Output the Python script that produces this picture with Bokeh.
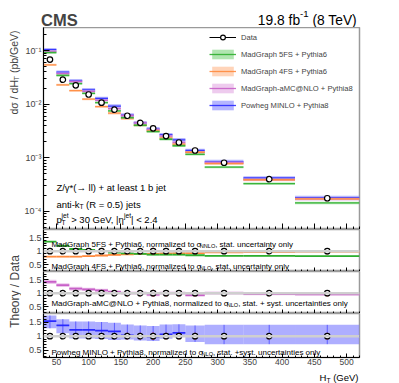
import math
from bokeh.plotting import figure
from bokeh.layouts import column, row
from bokeh.models import (Label, Legend, LegendItem, FixedTicker,
                          CustomJSTickFormatter, CustomLabelingPolicy, Range1d, Span)
from bokeh.embed import file_html
from bokeh.resources import INLINE

FONT = "Liberation Sans"

# ---------------------------------------------------------------- data
bin_lo = [30, 50, 70, 90, 110, 130, 150, 170, 190, 210, 230, 250, 280, 340, 420]
bin_hi = [50, 70, 90, 110, 130, 150, 170, 190, 210, 230, 250, 280, 340, 420, 520]
ht_center = [40, 60, 80, 100, 120, 140, 160, 180, 200, 220, 240, 265, 310, 380, 470]

data_xsec = [0.068, 0.0287, 0.0225, 0.0152, 0.0107, 0.0079, 0.0061, 0.0045,
             0.00355, 0.00255, 0.00193, 0.00137, 0.00081, 0.00040, 0.000176]
data_rel_err = [0.09, 0.08, 0.08, 0.08, 0.09, 0.10, 0.12, 0.12,
                0.13, 0.12, 0.12, 0.12, 0.11, 0.11, 0.12]
data_ratio = [1.0, 1.0, 1.0, 1.0, 1.0, 1.0, 1.0, 1.0,
              1.0, 1.0, 1.0, 1.0, 1.0, 1.0, 1.0]

# main-panel predictions (pb/GeV)
mg5fs_xsec = [0.0918, 0.0344, 0.0243, 0.0160, 0.0107, 0.0075, 0.0056, 0.00405,
              0.00309, 0.00222, 0.00168, 0.00116, 0.00067, 0.00033, 0.000144]
mg4fs_xsec = [0.0544, 0.0230, 0.0180, 0.0125, 0.0090, 0.0068, 0.0054, 0.00405,
              0.00320, 0.00235, 0.00179, 0.00127, 0.00078, 0.00039, 0.000172]
amc_xsec = [0.0966, 0.0373, 0.0263, 0.0173, 0.0118, 0.0083, 0.0061, 0.0045,
            0.00337, 0.00255, 0.00193, 0.00127, 0.00081, 0.00039, 0.000169]
powheg_xsec = [0.104, 0.0396, 0.0275, 0.0185, 0.0128, 0.0092, 0.0063, 0.0045,
               0.00348, 0.00270, 0.00216, 0.00137, 0.00085, 0.000420, 0.000181]

# relative widths of the prediction bands in the main panel
mg5fs_rel = [0.05] * 15
mg4fs_rel = [0.05] * 15
amc_rel = [0.06] * 15
powheg_rel = [0.08] * 15

# theory / data
ratio_mg5fs = [1.35, 1.20, 1.08, 1.05, 1.00, 0.95, 0.92, 0.90,
               0.87, 0.87, 0.87, 0.85, 0.83, 0.83, 0.82]
ratio_mg4fs = [0.80, 0.80, 0.80, 0.82, 0.84, 0.86, 0.88, 0.90,
               0.90, 0.92, 0.93, 0.93, 0.96, 0.97, 0.98]
ratio_amc = [1.42, 1.30, 1.17, 1.14, 1.10, 1.05, 1.00, 1.00,
             0.95, 1.00, 1.00, 0.93, 1.00, 0.97, 0.96]
ratio_powheg = [1.53, 1.38, 1.22, 1.22, 1.20, 1.17, 1.03, 1.00,
                0.98, 1.06, 1.12, 1.00, 1.00, 1.00, 1.00]
ratio_lo_unc = [0.025] * 15
ratio_amc_unc = [0.08, 0.07, 0.07, 0.06, 0.06, 0.06, 0.06, 0.06,
                 0.06, 0.06, 0.06, 0.06, 0.06, 0.05, 0.05]
ratio_powheg_up = [0.20, 0.22, 0.30, 0.30, 0.30, 0.30, 0.38, 0.38,
                   0.38, 0.35, 0.30, 0.38, 0.40, 0.40, 0.40]
ratio_powheg_dn = [0.25, 0.28, 0.30, 0.30, 0.30, 0.30, 0.15, 0.15,
                   0.15, 0.15, 0.15, 0.20, 0.28, 0.28, 0.28]

x_major_ticks = [50, 100, 150, 200, 250, 300, 350, 400, 450, 500]
x_minor_ticks = list(range(30, 521, 10))
y_major_ticks = [1e-4, 1e-3, 1e-2, 1e-1]
r_major_ticks = [0.5, 1.0, 1.5]
r_minor_ticks = [0.3, 0.4, 0.6, 0.7, 0.8, 0.9, 1.1, 1.2, 1.3, 1.4, 1.6, 1.7]

# colours
C_G_LINE, C_G_FILL = "#2fae2f", "#6fcf6f"
C_O_LINE, C_O_FILL = "#ff8a3d", "#ffb080"
C_P_LINE, C_P_FILL = "#c860c8", "#e0a0e0"
C_B_LINE, C_B_FILL = "#2a2aff", "#7878ff"
C_ERR = "#e8262a"

# ---------------------------------------------------------------- geometry (image px)
W = 399
FR_L, FR_R = 40, 359
X0, X1 = 30, 520
M_TOP, M_BOT = 27, 229
YMIN, YMAX = 4.6e-5, 0.27
R_TOP = [229, 271, 313]
R_BOT = [271, 313, 357]
R3_BORDER = 11
TOTAL_H = 383
RMIN, RMAX = 0.25, 1.8
TITLE_W = 21
COL_W = W - TITLE_W
B_LEFT = FR_L - TITLE_W
B_RIGHT = COL_W - B_LEFT - (FR_R - FR_L)
BOT_TOP = R_BOT[2] + R3_BORDER


def xd(px):
    return X0 + (px - FR_L) * (X1 - X0) / (FR_R - FR_L)


def ident(v):
    return v


def yd_main(py):
    lt, lb = math.log10(YMAX), math.log10(YMIN)
    return 10 ** (lt - (py - M_TOP) / (M_BOT - M_TOP) * (lt - lb))


def yd_ratio(k):
    def f(py):
        return RMAX - (py - R_TOP[k]) / (R_BOT[k] - R_TOP[k]) * (RMAX - RMIN)
    return f


HW = {' ': 278, '!': 278, '(': 333, ')': 333, '*': 389, '+': 584, ',': 278,
      '-': 333, '.': 278, '/': 278, ':': 278, '<': 584, '=': 584, '>': 584,
      '@': 1015, '|': 260, 'σ': 570, 'γ': 500, 'η': 556, '→': 1000}
for c in "0123456789":
    HW[c] = 556
HW.update(dict(zip("ABCDEFGHIJKLMNOPQRSTUVWXYZ",
                   [667, 667, 722, 722, 667, 611, 778, 722, 278, 500, 667, 556, 833,
                    722, 778, 667, 778, 722, 667, 611, 722, 667, 944, 667, 667, 611])))
HW.update(dict(zip("abcdefghijklmnopqrstuvwxyz",
                   [556, 556, 500, 556, 556, 278, 556, 556, 222, 222, 500, 222, 833,
                    556, 556, 556, 556, 333, 500, 278, 556, 500, 722, 500, 500, 500])))


def tw(s, size):
    return sum(HW.get(c, 556) for c in s) * size / 1000.0


def split_lead(t, size):
    """SVG drops leading blanks: return the stripped text and the blank width."""
    s = t.lstrip(" ")
    return s, tw(t[:len(t) - len(s)], size)


def rich(p, pieces, x0, base, xmap, ymap, size, align="left", color="black"):
    widths = []
    for pc in pieces:
        if pc[0] == "n":
            widths.append(tw(pc[1], size))
        elif pc[0] in ("sub", "sup"):
            widths.append(tw(pc[1], size * 0.7))
        else:
            widths.append(max(tw(pc[1], size * 0.7), tw(pc[2], size * 0.7)))
    x = x0 - sum(widths) if align == "right" else x0
    for pc, w in zip(pieces, widths):
        if pc[0] == "n":
            items = [(pc[1], size, base)]
        elif pc[0] == "sub":
            items = [(pc[1], size * 0.7, base + 0.3 * size)]
        elif pc[0] == "sup":
            items = [(pc[1], size * 0.7, base - 0.42 * size)]
        else:
            items = [(pc[1], size * 0.7, base + 0.3 * size),
                     (pc[2], size * 0.7, base - 0.45 * size)]
        for t, s, b in items:
            t2, lead = split_lead(t, s)
            p.add_layout(Label(x=xmap(x + lead), y=ymap(b), text=t2, text_font=FONT,
                               text_font_size=f"{s:.2f}px", text_align="left",
                               text_baseline="alphabetic", text_color=color))
        x += w


HIDE_LABELS = """
for (const i of indices) { indices.unset(i) }
return indices
"""


def style(p, xlabels=False):
    p.grid.visible = False
    p.outline_line_color = "#9a9a9a"
    p.outline_line_width = 1.5
    p.background_fill_color = "white"
    p.border_fill_color = "white"
    xa = p.xaxis[0]
    xa.ticker = FixedTicker(ticks=x_major_ticks, minor_ticks=x_minor_ticks)
    xa.major_tick_in, xa.major_tick_out = 6, 0
    xa.minor_tick_in, xa.minor_tick_out = 3, 0
    xa.axis_line_color = "black"
    xa.major_label_text_font = FONT
    if xlabels:
        xa.major_label_text_font_size = "8.5px"
        xa.major_label_standoff = 1
    else:
        xa.major_label_text_font_size = "0px"
        xa.major_label_standoff = 0
        xa.major_label_policy = CustomLabelingPolicy(code=HIDE_LABELS)
    ya = p.yaxis[0]
    ya.major_tick_in, ya.major_tick_out = 6, 0
    ya.minor_tick_in, ya.minor_tick_out = 3, 0
    ya.axis_line_color = "black"
    ya.major_label_text_font = FONT
    ya.major_label_text_font_size = "9px"
    ya.major_label_standoff = 2


def blank(width, height, xr, yr):
    b = figure(width=width, height=height, x_range=Range1d(*xr), y_range=Range1d(*yr),
               output_backend="svg", toolbar_location=None, min_border=0)
    b.axis.visible = False
    b.grid.visible = False
    b.outline_line_color = None
    b.background_fill_color = "white"
    b.border_fill_color = "white"
    return b


# ---------------------------------------------------------------- top strip (CMS, lumi)
# full-width strip: x/y data = picture pixels
ptop = blank(W, M_TOP, (0, W), (M_TOP, 0))
ptop.add_layout(Label(x=40.5, y=19, text="CMS", text_font=FONT,
                      text_font_style="bold", text_font_size="16.5px",
                      text_baseline="alphabetic"))
rich(ptop, [("n", "19.8 fb"), ("sup", "-1"), ("n", " (8 TeV)")], 358, 19.5,
     ident, ident, 13.8, align="right")

# ---------------------------------------------------------------- main panel
pm = figure(width=COL_W, height=M_BOT - M_TOP, x_range=Range1d(X0, X1),
            y_range=Range1d(YMIN, YMAX), y_axis_type="log",
            output_backend="svg", toolbar_location=None,
            min_border_left=B_LEFT, min_border_right=B_RIGHT,
            min_border_top=0, min_border_bottom=0)
style(pm)
y_minor = [m * 10.0 ** d for d in range(-5, 0) for m in range(2, 10) if YMIN < m * 10.0 ** d < YMAX]
pm.yaxis[0].ticker = FixedTicker(ticks=y_major_ticks, minor_ticks=y_minor)
pm.yaxis[0].formatter = CustomJSTickFormatter(code="""
const e = Math.round(Math.log10(tick));
const m = {'-':'\\u207b','0':'\\u2070','1':'\\u00b9','2':'\\u00b2','3':'\\u00b3','4':'\\u2074','5':'\\u2075'};
return '10' + String(e).split('').map(c => m[c]).join('');
""")

models_main = [
    ("Powheg MINLO + Pythia8", powheg_xsec, powheg_rel, C_B_LINE, C_B_FILL),
    ("MadGraph-aMC@NLO + Pythia8", amc_xsec, amc_rel, C_P_LINE, C_P_FILL),
    ("MadGraph 4FS + Pythia6", mg4fs_xsec, mg4fs_rel, C_O_LINE, C_O_FILL),
    ("MadGraph 5FS + Pythia6", mg5fs_xsec, mg5fs_rel, C_G_LINE, C_G_FILL),
]
legend_renderers = {}
for name, vals, rel, lc, fc in models_main:
    q = pm.quad(left=bin_lo, right=bin_hi,
                bottom=[v * (1 - r) for v, r in zip(vals, rel)],
                top=[v * (1 + r) for v, r in zip(vals, rel)],
                fill_color=fc, fill_alpha=0.55, line_color=None)
    s = pm.segment(x0=bin_lo, x1=bin_hi, y0=vals, y1=vals, line_color=lc,
                   line_width=1.3, line_alpha=0.9)
    legend_renderers[name] = [q, s]

pm.segment(x0=ht_center, x1=ht_center,
           y0=[v * (1 - e) for v, e in zip(data_xsec, data_rel_err)],
           y1=[v * (1 + e) for v, e in zip(data_xsec, data_rel_err)],
           line_color=C_ERR, line_width=1.4)
data_pts = pm.scatter(x=ht_center, y=data_xsec, marker="circle", size=5.5,
                      line_color="black", line_width=1.2, fill_color="white")
# one-point line: draws nothing in the plot, gives the legend its black line
data_line = pm.line(x=ht_center[:1], y=data_xsec[:1], line_color="black", line_width=1)

legend = Legend(items=[
    LegendItem(label="Data", renderers=[data_line, data_pts]),
    LegendItem(label="MadGraph 5FS + Pythia6", renderers=legend_renderers["MadGraph 5FS + Pythia6"]),
    LegendItem(label="MadGraph 4FS + Pythia6", renderers=legend_renderers["MadGraph 4FS + Pythia6"]),
    LegendItem(label="MadGraph-aMC@NLO + Pythia8", renderers=legend_renderers["MadGraph-aMC@NLO + Pythia8"]),
    LegendItem(label="Powheg MINLO + Pythia8", renderers=legend_renderers["Powheg MINLO + Pythia8"]),
], location=(206 - FR_L, M_BOT - 111), orientation="vertical",
    glyph_width=27, glyph_height=12, label_height=12, label_standoff=5,
    spacing=5, padding=0, margin=0, border_line_alpha=0,
    background_fill_alpha=0, label_text_font=FONT,
    label_text_font_size="7.6px", label_text_baseline="middle")
pm.add_layout(legend)

rich(pm, [("n", "Z/γ*(→ ll) + at least 1 b jet")], 53, 187, xd, yd_main, 9.5)
rich(pm, [("n", "anti-k"), ("sub", "T"), ("n", " (R = 0.5) jets")], 53, 203.5,
     xd, yd_main, 9.5)
rich(pm, [("n", "p"), ("ss", "T", "jet"), ("n", " > 30 GeV, |η"), ("sup", "jet"),
          ("n", "| < 2.4")], 53, 219, xd, yd_main, 9.5)

# ---------------------------------------------------------------- ratio panels
ratio_panels = []
panel_specs = [
    dict(series=[(ratio_mg4fs, ratio_lo_unc, ratio_lo_unc, C_O_LINE, C_O_FILL, 0.5),
                 (ratio_mg5fs, ratio_lo_unc, ratio_lo_unc, C_G_LINE, C_G_FILL, 0.5)],
         texts=[([("n", "MadGraph 5FS + Pythia6, normalized to σ"), ("sub", "NNLO"),
                  ("n", ", stat. uncertainty only")], 243.5),
                ([("n", "MadGraph 4FS + Pythia6, normalized to σ"), ("sub", "NLO"),
                  ("n", ", stat. uncertainty only")], 265.5)]),
    dict(series=[(ratio_amc, ratio_amc_unc, ratio_amc_unc, C_P_LINE, C_P_FILL, 0.6)],
         texts=[([("n", "MadGraph-aMC@NLO + Pythia8, normalized to σ"), ("sub", "NLO"),
                  ("n", ", stat. + syst. uncertainties only")], 302.5)]),
    dict(series=[(ratio_powheg, ratio_powheg_up, ratio_powheg_dn, C_B_LINE, C_B_FILL, 0.6)],
         texts=[([("n", "Powheg MINLO + Pythia8, normalized to σ"), ("sub", "NLO"),
                  ("n", ", stat. +syst. uncertainties only")], 351.5)]),
]
for k, spec in enumerate(panel_specs):
    last = k == 2
    h = R_BOT[k] - R_TOP[k] + (R3_BORDER if last else 0)
    pr = figure(width=COL_W, height=h, x_range=pm.x_range,
                y_range=Range1d(RMIN, RMAX), output_backend="svg",
                toolbar_location=None,
                min_border_left=B_LEFT, min_border_right=B_RIGHT,
                min_border_top=0, min_border_bottom=R3_BORDER if last else 0)
    style(pr, xlabels=last)
    pr.yaxis[0].ticker = FixedTicker(ticks=r_major_ticks, minor_ticks=r_minor_ticks)
    pr.yaxis[0].formatter = CustomJSTickFormatter(code="return String(tick);")
    pr.yaxis[0].major_tick_in = 5
    pr.xaxis[0].major_tick_in = 4
    pr.xaxis[0].minor_tick_in = 2
    pr.add_layout(Span(location=1.0, dimension="width", line_color="#cfcfcf",
                       line_width=2.5))
    for vals, up, dn, lc, fc, al in spec["series"]:
        pr.quad(left=bin_lo, right=bin_hi,
                bottom=[v - d for v, d in zip(vals, dn)],
                top=[v + u for v, u in zip(vals, up)],
                fill_color=fc, fill_alpha=al, line_color=None)
        pr.segment(x0=bin_lo, x1=bin_hi, y0=vals, y1=vals, line_color=lc,
                   line_width=1.8)
        if k == 2:
            pr.segment(x0=ht_center, x1=ht_center,
                       y0=[v - d for v, d in zip(vals, dn)],
                       y1=[v + u for v, u in zip(vals, up)],
                       line_color=lc, line_width=1, line_alpha=0.6)
    pr.segment(x0=ht_center, x1=ht_center,
               y0=[v - e for v, e in zip(data_ratio, data_rel_err)],
               y1=[v + e for v, e in zip(data_ratio, data_rel_err)],
               line_color=C_ERR, line_width=1.4)
    pr.scatter(x=ht_center, y=data_ratio, marker="circle", size=5.5,
               line_color="black", line_width=1.2, fill_color="white")
    for pieces, base in spec["texts"]:
        rich(pr, pieces, 48, base, xd, yd_ratio(k), 8)
    ratio_panels.append(pr)

# ---------------------------------------------------------------- bottom strip (x title)
pbot = blank(W, TOTAL_H - BOT_TOP, (0, W), (TOTAL_H, BOT_TOP))
rich(pbot, [("n", "H"), ("sub", "T"), ("n", " (GeV)")], 358, 377,
     ident, ident, 9.5, align="right")

# ---------------------------------------------------------------- y titles
pt = blank(TITLE_W, BOT_TOP - M_TOP, (0, TITLE_W), (BOT_TOP, M_TOP))


def vrich(p, pieces, xbase, yend, size):
    widths = [tw(t, size if m == "n" else size * 0.7) for m, t in pieces]
    y = yend + sum(widths)
    for (m, t), w in zip(pieces, widths):
        s = size if m == "n" else size * 0.7
        dx = 0 if m == "n" else 0.25 * size
        t2, lead = split_lead(t, s)
        p.add_layout(Label(x=xbase + dx, y=y - lead, text=t2, text_font=FONT,
                           text_font_size=f"{s:.2f}px", angle=math.pi / 2,
                           text_align="left", text_baseline="alphabetic"))
        y -= w


vrich(pt, [("n", "dσ / dH"), ("sub", "T"), ("n", " (pb/GeV)")], 13, 30, 10.5)
pt.add_layout(Label(x=14, y=291, text="Theory / Data", text_font=FONT,
                    text_font_size="12px", angle=math.pi / 2, text_align="center",
                    text_baseline="alphabetic"))

layout = column(ptop,
                row(pt, column(pm, *ratio_panels, spacing=0), spacing=0),
                pbot, spacing=0)
open("out.html", "w").write(file_html(layout, INLINE))
